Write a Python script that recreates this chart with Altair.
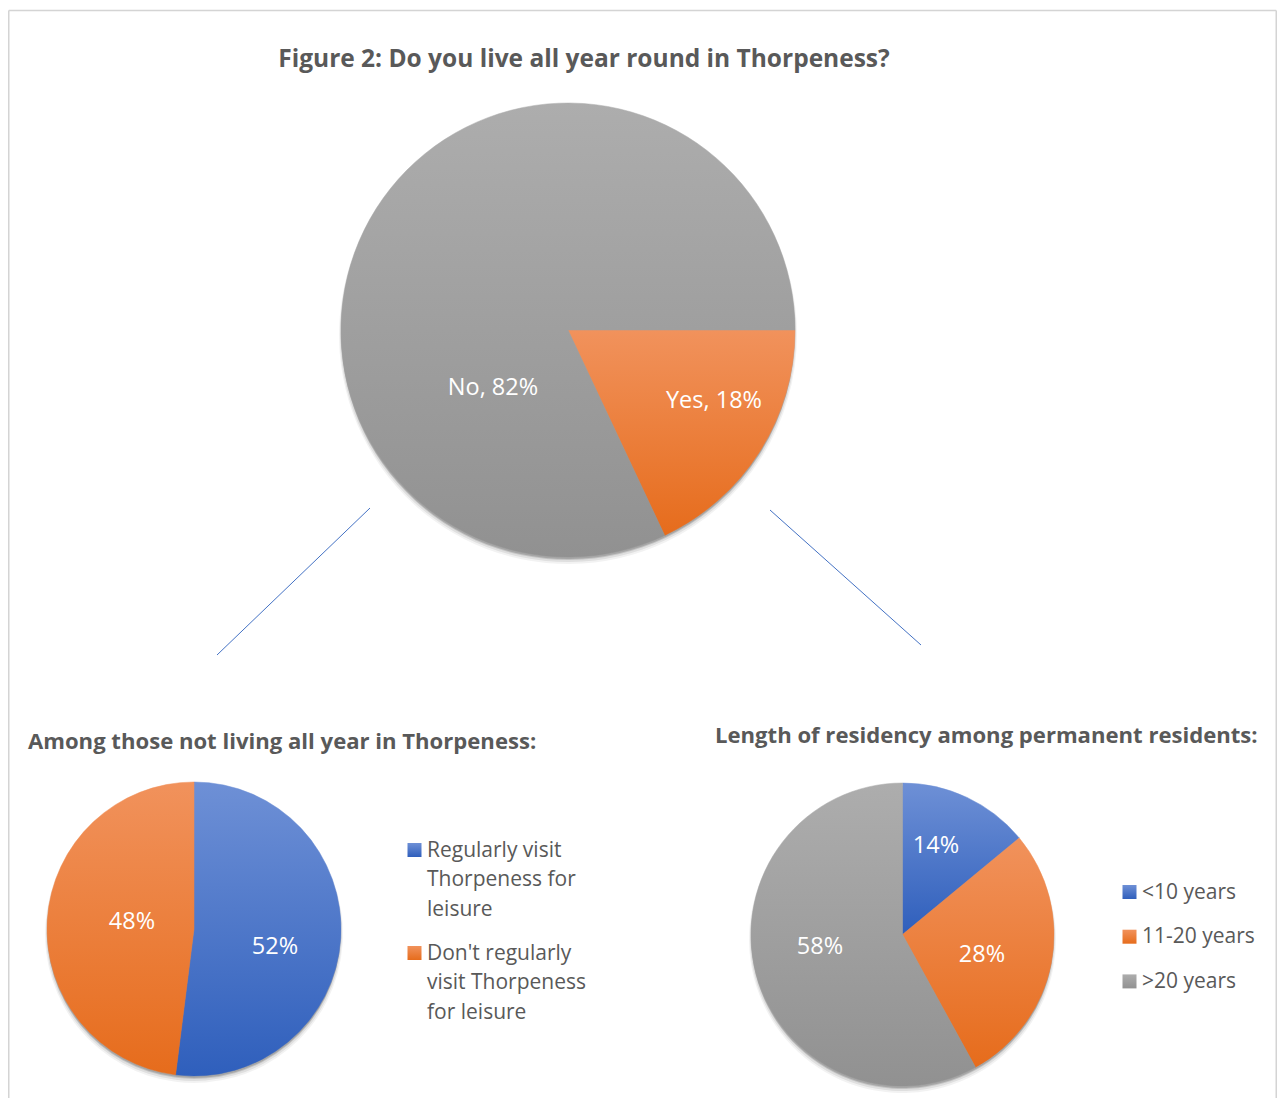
import math
import textwrap
import altair as alt
import pandas as pd

# ---------------- data ----------------
main_cats = ["Yes", "No"]
main_vals = [18, 82]
visit_cats = ["Regularly visit Thorpeness for leisure",
              "Don't regularly visit Thorpeness for leisure"]
visit_vals = [52, 48]
res_cats = ["<10 years", "11-20 years", ">20 years"]
res_vals = [14, 28, 58]

title_main = "Figure 2: Do you live all year round in Thorpeness?"
title_left = "Among those not living all year in Thorpeness:"
title_right = "Length of residency among permanent residents:"

# ---------------- style / layout ----------------
W, H = 1269, 1090
OX, OY = 8, 8
TY = 1.5  # text baseline correction
FONT = "Open Sans"
TXT = "#595959"


def grad(c0, c1):
    return alt.LinearGradient(
        gradient="linear", x1=0, y1=0, x2=0, y2=1,
        stops=[alt.GradientStop(color=c0, offset=0),
               alt.GradientStop(color=c1, offset=1)])


FILLS = {
    "blue": grad("#6E90D6", "#2F5FBC"),
    "orange": grad("#F1925C", "#E66C1C"),
    "gray": grad("#ADADAD", "#919191"),
}

layers = []


def pie(cats, vals, colors, cx, cy, r, start):
    df = pd.DataFrame({"cat": cats, "value": vals, "order": list(range(len(cats)))})
    tot = sum(vals)
    tscale = alt.Scale(domain=[0, tot], range=[start, start + 2 * math.pi])
    # soft shadow
    for dy, dr, op in [(5, 2, 0.05), (4, 1, 0.08), (3, 0, 0.12), (2, 0, 0.15)]:
        layers.append(
            alt.Chart(df).mark_arc(radius=r + dr, fill="#000000", opacity=op, stroke=None)
            .encode(theta=alt.Theta("value:Q", stack=True, scale=tscale),
                    x=alt.value(cx - OX), y=alt.value(cy - OY + dy)))
    base = (alt.Chart(df)
            .transform_window(cum="sum(value)", sort=[alt.SortField("order")], frame=[None, 0])
            .transform_calculate(start="datum.cum - datum.value"))
    for c, col in zip(cats, colors):
        layers.append(
            base.transform_filter(alt.FieldEqualPredicate(field="cat", equal=c))
            .mark_arc(radius=r, fill=FILLS[col], stroke=FILLS[col], strokeWidth=0.5)
            .encode(theta=alt.Theta("start:Q", scale=tscale), theta2="cum:Q",
                    x=alt.value(cx - OX), y=alt.value(cy - OY)))


def text(t, x, y, size, color, weight="normal", align="center"):
    layers.append(
        alt.Chart(pd.DataFrame({"t": [t]}))
        .mark_text(font=FONT, fontSize=size, color=color, fontWeight=weight,
                   align=align, baseline="middle")
        .encode(text="t:N", x=alt.value(x - OX), y=alt.value(y - OY + TY)))


def legend(cats, colors, x_sq, y0, step, x_txt, size, wrap, line_h):
    for i, (c, col) in enumerate(zip(cats, colors)):
        yi = y0 + i * step
        layers.append(
            alt.Chart(pd.DataFrame({"c": [c]}))
            .mark_square(size=196, fill=FILLS[col], opacity=1, strokeWidth=0)
            .encode(x=alt.value(x_sq - OX), y=alt.value(yi - OY + 1)))
        lines = textwrap.wrap(c, wrap) if wrap else [c]
        for j, ln in enumerate(lines):
            text(ln, x_txt, yi + j * line_h, size, TXT, align="left")


# ---------------- border ----------------
border_col = "#D4D4D4"
RIGHT = W - 0.75
layers.append(alt.Chart(pd.DataFrame({"a": [0]})).mark_rule(color=border_col, strokeWidth=1.5)
              .encode(x=alt.value(0.75), x2=alt.value(0.75), y=alt.value(2.5), y2=alt.value(H)))
layers.append(alt.Chart(pd.DataFrame({"a": [0]})).mark_rule(color=border_col, strokeWidth=1.5)
              .encode(x=alt.value(0.75), x2=alt.value(RIGHT), y=alt.value(2.5), y2=alt.value(2.5)))
layers.append(alt.Chart(pd.DataFrame({"a": [0]})).mark_rule(color=border_col, strokeWidth=1.5)
              .encode(x=alt.value(RIGHT), x2=alt.value(RIGHT), y=alt.value(2.5), y2=alt.value(H)))

# ---------------- connector lines ----------------
for (x1, y1, x2, y2) in [(370, 508, 217, 655), (770, 510, 921, 645)]:
    layers.append(alt.Chart(pd.DataFrame({"a": [0]})).mark_rule(color="#4472C4", strokeWidth=1)
                  .encode(x=alt.value(x1 - OX), y=alt.value(y1 - OY),
                          x2=alt.value(x2 - OX), y2=alt.value(y2 - OY)))

# ---------------- pies ----------------
pie(main_cats, main_vals, ["orange", "gray"], 568, 330, 227, math.pi / 2)
pie(visit_cats, visit_vals, ["blue", "orange"], 194, 929, 147, 0)
pie(res_cats, res_vals, ["blue", "orange", "gray"], 902.5, 934.5, 151.5, 0)

# ---------------- pie labels ----------------
LS = 23.5
text(f"{main_cats[1]}, {main_vals[1]}%", 493, 386, LS, "white")
text(f"{main_cats[0]}, {main_vals[0]}%", 714, 399, LS, "white")
text(f"{visit_vals[0]}%", 275, 945, LS, "white")
text(f"{visit_vals[1]}%", 132, 920, LS, "white")
text(f"{res_vals[0]}%", 936, 844, LS, "white")
text(f"{res_vals[1]}%", 982, 953, LS, "white")
text(f"{res_vals[2]}%", 820, 945, LS, "white")

# ---------------- titles ----------------
text(title_main, 584, 58, 24.5, TXT, weight="bold")
text(title_left, 28, 740, 22.1, TXT, weight="bold", align="left")
text(title_right, 715, 734, 22.1, TXT, weight="bold", align="left")

# ---------------- legends ----------------
legend(visit_cats, ["blue", "orange"], 414.5, 849, 103, 427, 21, 16, 29.5)
legend(res_cats, ["blue", "orange", "gray"], 1129.5, 891, 44.7, 1142, 21, None, 0)

chart = (alt.layer(*layers)
         .resolve_scale(theta="independent")
         .properties(width=W, height=H, autosize=alt.AutoSizeParams(type="none"),
                     padding=0, background="white")
         .configure_view(stroke=None))

chart.save("out.html", embed_options={"renderer": "svg", "actions": False})
